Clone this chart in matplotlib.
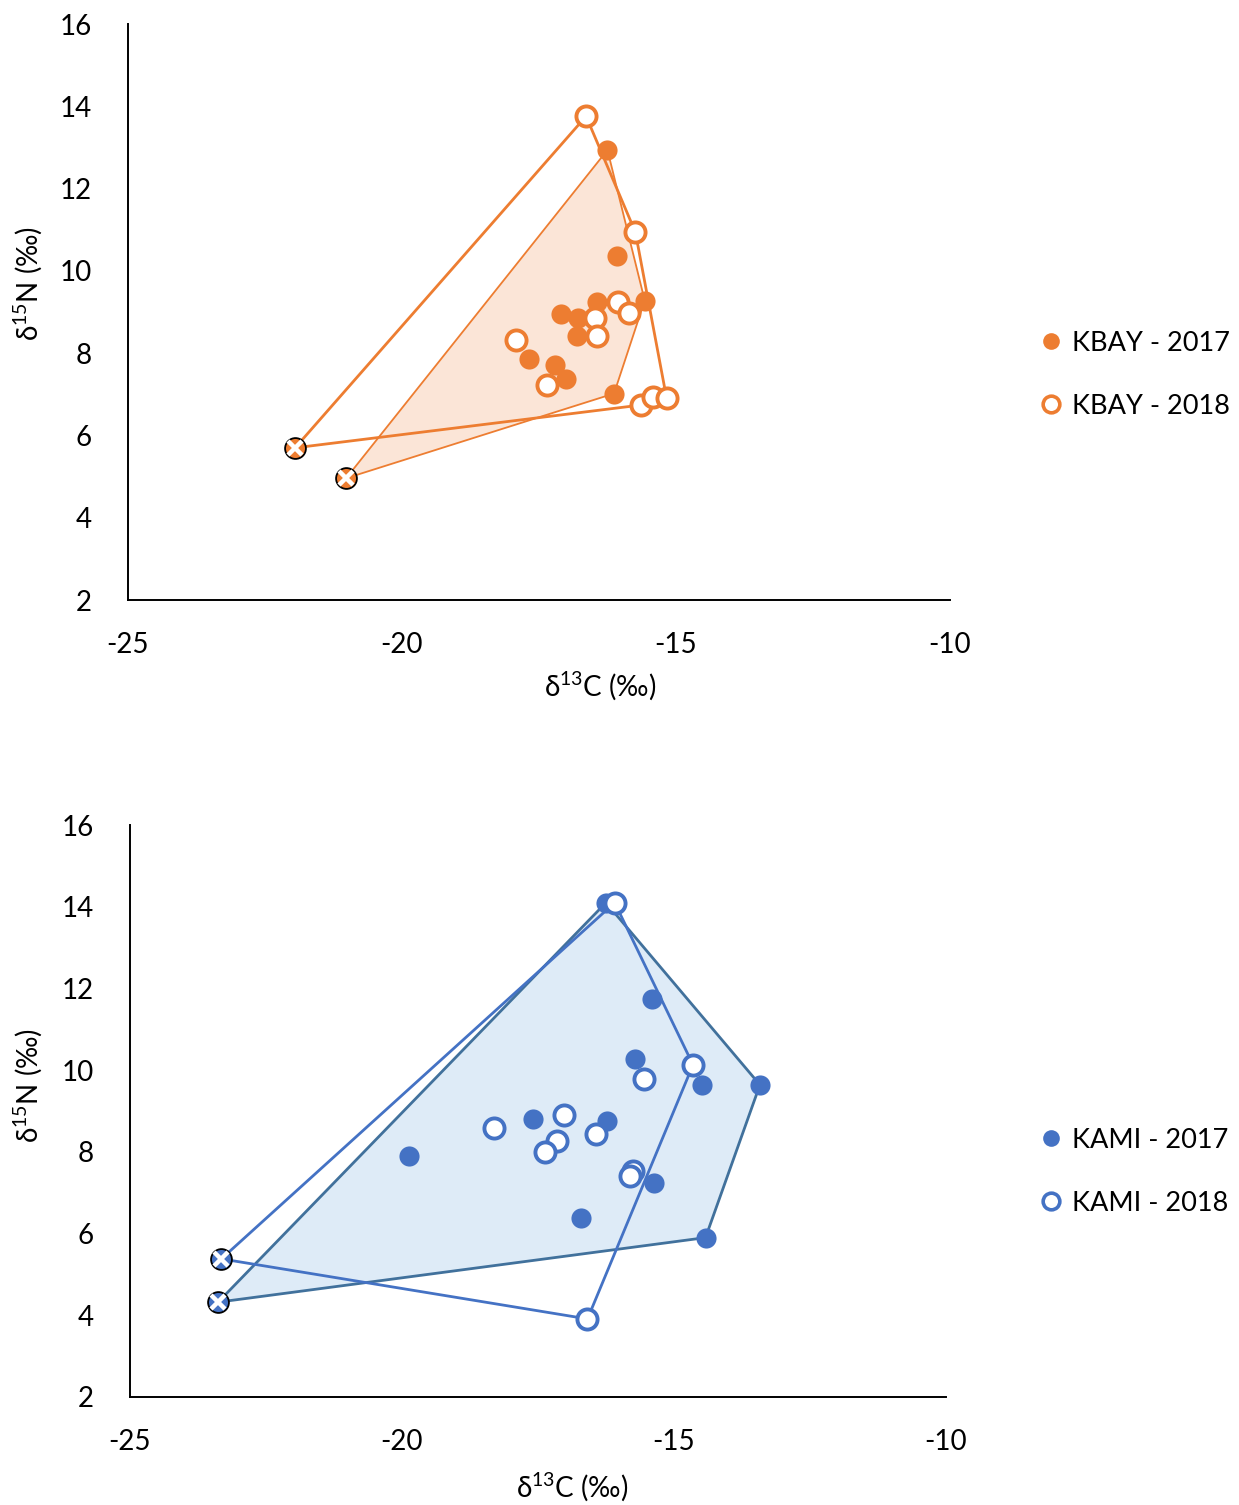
import matplotlib
matplotlib.use("Agg")
import matplotlib.pyplot as plt
from matplotlib.lines import Line2D
from matplotlib.patches import Polygon

plt.rcParams['font.family'] = ['Lato', 'DejaVu Sans']
plt.rcParams['mathtext.fontset'] = 'custom'
plt.rcParams['mathtext.rm'] = 'Lato'
plt.rcParams['mathtext.default'] = 'regular'
plt.rcParams['axes.unicode_minus'] = False

# KBAY (top panel)
kbay_2017_x = [-16.25, -16.08, -15.57, -16.44, -17.09, -16.78, -16.80, -17.68, -17.20, -17.00, -16.13]
kbay_2017_y = [12.94, 10.37, 9.28, 9.24, 8.95, 8.86, 8.42, 7.85, 7.71, 7.38, 7.02]
kbay_2018_x = [-16.64, -15.74, -16.05, -15.86, -16.48, -16.44, -17.92, -17.36, -15.64, -15.41, -15.17]
kbay_2018_y = [13.76, 10.94, 9.25, 8.98, 8.86, 8.42, 8.32, 7.23, 6.74, 6.94, 6.90]
kbay_src_2017 = (-21.02, 4.96)
kbay_src_2018 = (-21.95, 5.70)

# KAMI (bottom panel)
kami_2017_x = [-16.25, -19.88, -17.59, -16.24, -15.40, -15.72, -14.49, -13.42, -15.36, -16.71, -14.42]
kami_2017_y = [14.10, 7.91, 8.80, 8.75, 11.73, 10.27, 9.64, 9.64, 7.23, 6.37, 5.90]
kami_2018_x = [-16.09, -15.56, -14.65, -18.30, -17.02, -17.15, -17.38, -16.44, -15.75, -15.80, -16.59]
kami_2018_y = [14.10, 9.78, 10.13, 8.59, 8.90, 8.27, 8.00, 8.43, 7.52, 7.40, 3.91]
kami_src_2017 = (-23.38, 4.32)
kami_src_2018 = (-23.32, 5.38)

x_ticks = [-25, -20, -15, -10]
y_ticks = [2, 4, 6, 8, 10, 12, 14, 16]

ORANGE = '#ED7D31'
BLUE = '#4472C4'


def convex_hull(xs, ys):
    # monotone chain
    pts = sorted(set(zip(xs, ys)))

    def cross(o, a, b):
        return (a[0] - o[0]) * (b[1] - o[1]) - (a[1] - o[1]) * (b[0] - o[0])

    lower, upper = [], []
    for p in pts:
        while len(lower) >= 2 and cross(lower[-2], lower[-1], p) <= 0:
            lower.pop()
        lower.append(p)
    for p in reversed(pts):
        while len(upper) >= 2 and cross(upper[-2], upper[-1], p) <= 0:
            upper.pop()
        upper.append(p)
    return lower[:-1] + upper[:-1]


def draw_panel(ax, name, x17, y17, x18, y18, src17, src18, color, fill, line17, lw17, legend_y):
    hull17 = convex_hull(x17 + [src17[0]], y17 + [src17[1]])
    hull18 = convex_hull(x18 + [src18[0]], y18 + [src18[1]])

    ax.add_patch(Polygon(hull17, closed=True, facecolor=fill, edgecolor=line17,
                         linewidth=lw17, zorder=1))
    ax.add_patch(Polygon(hull18, closed=True, facecolor='none', edgecolor=color,
                         linewidth=2.0, zorder=2))

    ax.plot(x17, y17, 'o', color=color, markersize=14.5, markeredgewidth=0, zorder=3)
    ax.plot(x18, y18, 'o', markerfacecolor='white', markeredgecolor=color,
            markersize=14.5, markeredgewidth=2.8, zorder=4)

    for sx, sy in (src17, src18):
        ax.plot(sx, sy, 'o', color=color, markeredgecolor='black', markersize=15,
                markeredgewidth=1.3, zorder=5)
        ax.plot(sx, sy, 'x', color='white', markersize=10.5, markeredgewidth=3.2, zorder=6)

    ax.set_xlim(-25, -10)
    ax.set_ylim(2, 16)
    ax.set_xticks(x_ticks)
    ax.set_yticks(y_ticks)
    ax.tick_params(length=0, labelsize=20)
    ax.tick_params(axis='x', pad=23)
    ax.tick_params(axis='y', pad=26)
    for side in ('top', 'right'):
        ax.spines[side].set_visible(False)
    for side in ('left', 'bottom'):
        ax.spines[side].set_linewidth(1.4)

    handles = [
        Line2D([], [], marker='o', linestyle='none', color=color, markersize=12,
               markeredgewidth=0, label=f'{name} - 2017'),
        Line2D([], [], marker='o', linestyle='none', markerfacecolor='white',
               markeredgecolor=color, markersize=12, markeredgewidth=2.6,
               label=f'{name} - 2018'),
    ]
    ax.legend(handles=handles, loc='center left', bbox_to_anchor=(0.82, legend_y),
              bbox_transform=ax.figure.transFigure, frameon=False, fontsize=19.5,
              handlelength=0.8, handletextpad=0.35, labelspacing=1.4)


fig = plt.figure(figsize=(12.39, 15.05), dpi=100)
ax1 = fig.add_axes([0.1033, 0.6013, 0.6634, 0.3827])
ax2 = fig.add_axes([0.1049, 0.0718, 0.6586, 0.3800])

draw_panel(ax1, 'KBAY', kbay_2017_x, kbay_2017_y, kbay_2018_x, kbay_2018_y,
           kbay_src_2017, kbay_src_2018, ORANGE, '#FBE5D7', ORANGE, 1.3, 0.7510)
draw_panel(ax2, 'KAMI', kami_2017_x, kami_2017_y, kami_2018_x, kami_2018_y,
           kami_src_2017, kami_src_2018, BLUE, '#DEEBF7', '#41719C', 2.0, 0.2215)

ax1.text(0.574, -0.148, 'δ$^{13}$C (‰)', transform=ax1.transAxes, ha='center', va='center', fontsize=20)
ax1.text(-0.122, 0.55, 'δ$^{15}$N (‰)', transform=ax1.transAxes, ha='center', va='center',
         rotation=90, fontsize=20)
ax2.text(0.542, -0.157, 'δ$^{13}$C (‰)', transform=ax2.transAxes, ha='center', va='center', fontsize=20)
ax2.text(-0.125, 0.545, 'δ$^{15}$N (‰)', transform=ax2.transAxes, ha='center', va='center',
         rotation=90, fontsize=20)

fig.savefig('out.png', dpi=100)
